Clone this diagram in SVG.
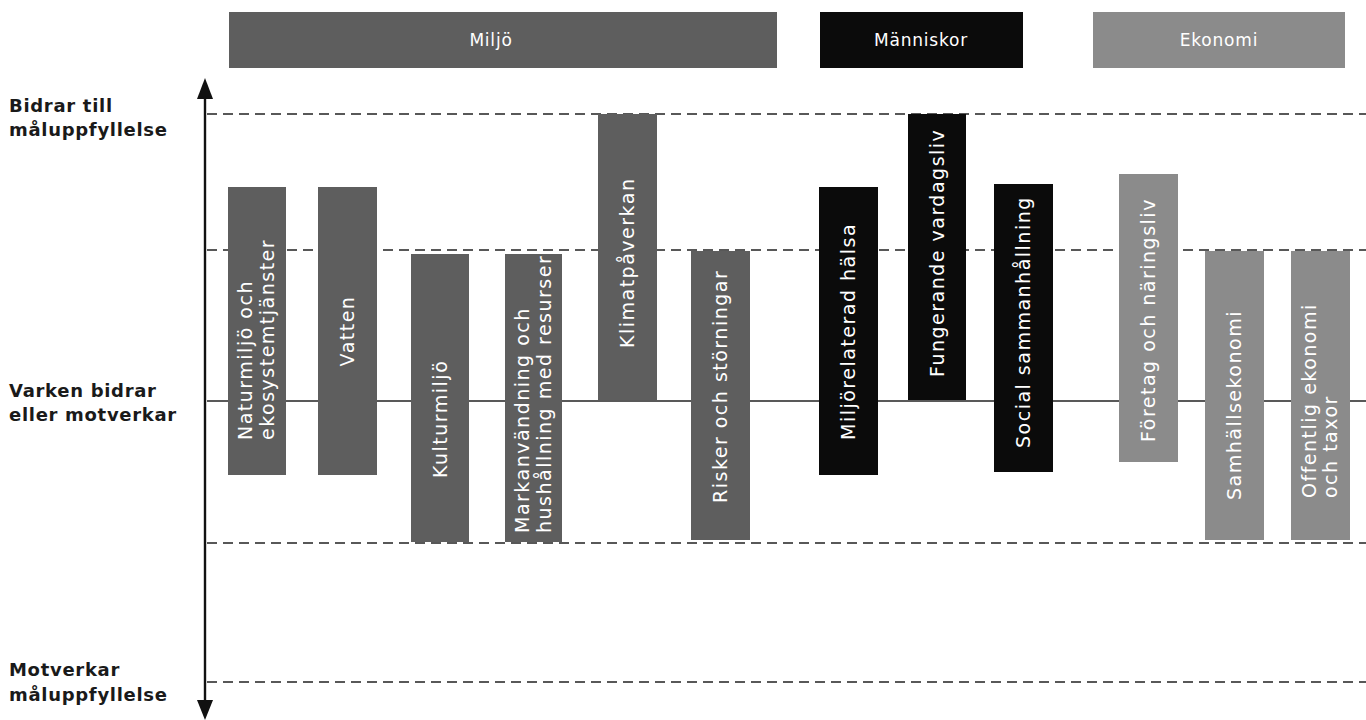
<svg xmlns="http://www.w3.org/2000/svg" width="1366" height="720" viewBox="0 0 1366 720">
<style>
  text { font-family: "DejaVu Sans", "Open Sans", sans-serif; }
  .lbl { font-size: 18px; font-weight: bold; fill: #1a1a1a; letter-spacing: 0.7px; }
  .hdr { font-size: 17px; fill: #ffffff; text-anchor: middle; letter-spacing: 0.8px; }
  .bt { font-size: 19px; fill: #ffffff; letter-spacing: 1.5px; }
  .mil { fill: #5e5e5e; }
  .man { fill: #0b0b0b; }
  .eko { fill: #8b8b8b; }
  .dash { stroke: #222; stroke-width: 1.6; stroke-dasharray: 10 6; fill: none; }
  .solid { stroke: #222; stroke-width: 1.6; fill: none; }
  .axis { stroke: #111; stroke-width: 2.4; fill: none; }
  .head { fill: #111; }
</style>
<rect width="1366" height="720" fill="#ffffff"/>

<g id="labels">
  <text class="lbl" x="9" y="112">Bidrar till</text>
  <text class="lbl" x="9" y="136">måluppfyllelse</text>
  <text class="lbl" x="9" y="397">Varken bidrar</text>
  <text class="lbl" x="9" y="421">eller motverkar</text>
  <text class="lbl" x="9" y="676">Motverkar</text>
  <text class="lbl" x="9" y="701">måluppfyllelse</text>
</g>

<g id="connectors">
  <line class="dash" x1="207" y1="114" x2="1366" y2="114"/>
  <line class="dash" x1="207" y1="250" x2="1366" y2="250"/>
  <line class="solid" x1="207" y1="401" x2="1366" y2="401"/>
  <line class="dash" x1="207" y1="543" x2="1366" y2="543"/>
  <line class="dash" x1="207" y1="682" x2="1366" y2="682"/>
  <line class="axis" x1="205" y1="96" x2="205" y2="702"/>
  <polygon class="head" points="205,78 197,99 213,99"/>
  <polygon class="head" points="205,720 197,700 213,700"/>
</g>

<g id="hdr-miljo">
  <rect class="mil" x="229" y="12" width="548" height="56"/>
  <text class="hdr" x="491" y="46">Miljö</text>
</g>
<g id="hdr-manniskor">
  <rect class="man" x="820" y="12" width="203" height="56"/>
  <text class="hdr" x="921" y="46">Människor</text>
</g>
<g id="hdr-ekonomi">
  <rect class="eko" x="1093" y="12" width="252" height="56"/>
  <text class="hdr" x="1219" y="46">Ekonomi</text>
</g>

<g id="bar-naturmiljo">
  <rect class="mil" x="228" y="187" width="58" height="288"/>
  <text class="bt" transform="translate(252,440) rotate(-90)">Naturmiljö och</text>
  <text class="bt" transform="translate(273.5,440) rotate(-90)">ekosystemtjänster</text>
</g>
<g id="bar-vatten">
  <rect class="mil" x="318" y="187" width="59" height="288"/>
  <text class="bt" text-anchor="middle" transform="translate(354,331) rotate(-90)">Vatten</text>
</g>
<g id="bar-kulturmiljo">
  <rect class="mil" x="411" y="254" width="58" height="288"/>
  <text class="bt" transform="translate(447,478) rotate(-90)">Kulturmiljö</text>
</g>
<g id="bar-markanvandning">
  <rect class="mil" x="505" y="254" width="57" height="288"/>
  <text class="bt" transform="translate(529,533) rotate(-90)">Markanvändning och</text>
  <text class="bt" transform="translate(550.5,533) rotate(-90)">hushållning med resurser</text>
</g>
<g id="bar-klimatpaverkan">
  <rect class="mil" x="598" y="114" width="59" height="286"/>
  <text class="bt" transform="translate(634,348) rotate(-90)">Klimatpåverkan</text>
</g>
<g id="bar-risker">
  <rect class="mil" x="691" y="251" width="59" height="289"/>
  <text class="bt" transform="translate(727,503) rotate(-90)">Risker och störningar</text>
</g>
<g id="bar-miljorelaterad">
  <rect class="man" x="819" y="187" width="59" height="288"/>
  <text class="bt" transform="translate(855,440) rotate(-90)">Miljörelaterad hälsa</text>
</g>
<g id="bar-fungerande">
  <rect class="man" x="908" y="114" width="58" height="286"/>
  <text class="bt" transform="translate(944,377) rotate(-90)">Fungerande vardagsliv</text>
</g>
<g id="bar-social">
  <rect class="man" x="994" y="184" width="59" height="288"/>
  <text class="bt" transform="translate(1030,448) rotate(-90)">Social sammanhållning</text>
</g>
<g id="bar-foretag">
  <rect class="eko" x="1119" y="174" width="59" height="288"/>
  <text class="bt" transform="translate(1155,442) rotate(-90)">Företag och näringsliv</text>
</g>
<g id="bar-samhallsekonomi">
  <rect class="eko" x="1205" y="251" width="59" height="289"/>
  <text class="bt" transform="translate(1241,500) rotate(-90)">Samhällsekonomi</text>
</g>
<g id="bar-offentlig">
  <rect class="eko" x="1291" y="251" width="59" height="289"/>
  <text class="bt" transform="translate(1316,498) rotate(-90)">Offentlig ekonomi</text>
  <text class="bt" transform="translate(1337,498) rotate(-90)">och taxor</text>
</g>
</svg>
